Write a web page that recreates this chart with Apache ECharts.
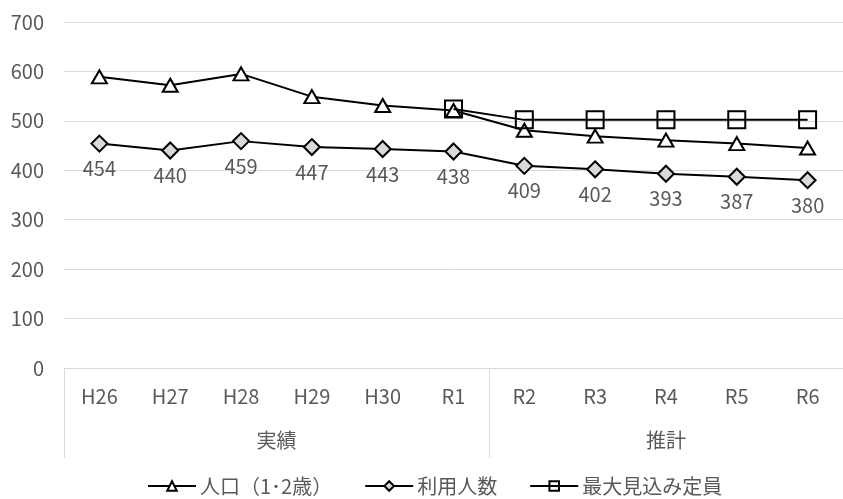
<!DOCTYPE html>
<html><head><meta charset="utf-8">
<script src="https://cdn.jsdelivr.net/npm/echarts@6/dist/echarts.min.js"></script>
<style>html,body{margin:0;padding:0;background:#fff}#c{width:843px;height:499px}</style>
</head><body><div id="c"></div>
<script>
const categories = ['H26','H27','H28','H29','H30','R1','R2','R3','R4','R5','R6'];
const groups = ['実績','推計'];
const groupBounds = [0, 6, 11];
const population = [589, 572, 595, 549, 531, 521, 481, 469, 461, 454, 445];
const usage = [454, 440, 459, 447, 443, 438, 409, 402, 393, 387, 380];
const capacity = [null, null, null, null, null, 524, 502, 502, 502, 502, 502];
const yTicks = [0, 700, 100];

const FONT = '"Noto Sans CJK JP", "Noto Sans", sans-serif';
const GRAY = '#595959';
const chart = echarts.init(document.getElementById('c'));
const groupCenters = [(groupBounds[0]+groupBounds[1])/2, (groupBounds[1]+groupBounds[2])/2];
chart.setOption({
  animation: false,
  textStyle: {fontFamily: FONT},
  grid: {left: 64, width: 784, top: 22, bottom: 131, containLabel: false},
  legend: {
    top: 471, left: 142, itemWidth: 48, itemHeight: 12, itemGap: 32,
    textStyle: {color: GRAY, fontSize: 20, fontFamily: FONT, padding: [0, 0, 0, -1]},
    data: ['人口（1･2歳）', '利用人数', '最大見込み定員']
  },
  xAxis: [{
    type: 'category', data: categories, boundaryGap: true,
    axisLine: {lineStyle: {color: '#d9d9d9'}},
    axisTick: {show: false},
    axisLabel: {color: GRAY, fontSize: 20, margin: 18, fontFamily: FONT}
  }, {
    type: 'value', min: groupBounds[0], max: groupBounds[2], position: 'bottom',
    axisLine: {show: false},
    splitLine: {show: false},
    axisTick: {show: true, customValues: groupBounds, length: 90, lineStyle: {color: '#d9d9d9'}},
    axisLabel: {show: true, customValues: groupCenters, margin: 62, color: GRAY, fontSize: 20, fontFamily: FONT,
      formatter: v => v === groupCenters[0] ? groups[0] : groups[1]}
  }],
  yAxis: {
    type: 'value', min: yTicks[0], max: yTicks[1], interval: yTicks[2],
    axisLine: {show: false}, axisTick: {show: false},
    splitLine: {lineStyle: {color: '#d9d9d9'}},
    axisLabel: {color: GRAY, fontSize: 20, margin: 20, fontFamily: FONT}
  },
  series: [{
    name: '人口（1･2歳）', type: 'line', data: population, xAxisIndex: 0,
    symbol: 'triangle', symbolSize: [15, 13],
    lineStyle: {color: '#000', width: 2},
    itemStyle: {color: '#fff', borderColor: '#000', borderWidth: 2},
    z: 2
  }, {
    name: '利用人数', type: 'line', data: usage, xAxisIndex: 0,
    symbol: 'diamond', symbolSize: 16,
    lineStyle: {color: '#000', width: 2},
    itemStyle: {color: '#d9d9d9', borderColor: '#000', borderWidth: 2},
    label: {show: true, position: 'bottom', distance: 6, color: GRAY, fontSize: 20, fontFamily: FONT},
    z: 2
  }, {
    name: '最大見込み定員', type: 'line', data: capacity, xAxisIndex: 0,
    symbol: 'rect', symbolSize: 17,
    lineStyle: {color: '#000', width: 2},
    itemStyle: {color: 'rgba(255,255,255,0)', borderColor: '#000', borderWidth: 2},
    z: 3
  }]
});
</script></body></html>
